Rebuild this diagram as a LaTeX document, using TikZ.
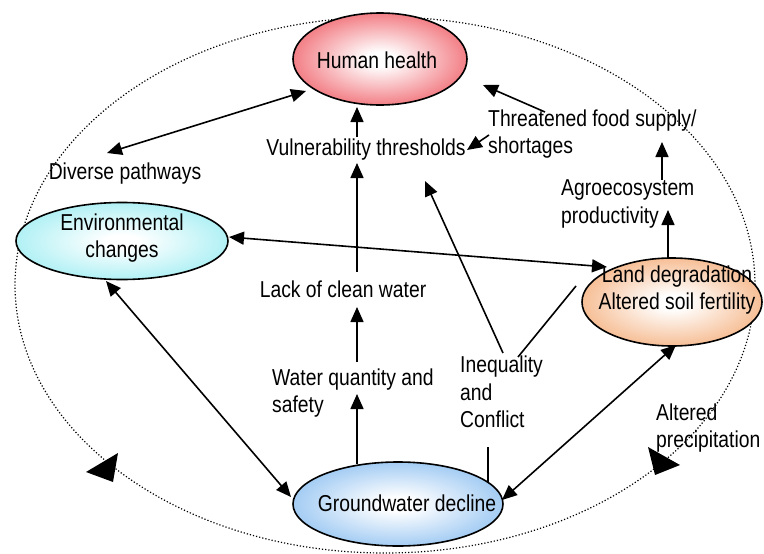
\documentclass[tikz,border=0pt]{standalone}
\usepackage{fontspec}
\setmainfont[FakeStretch=0.84]{Liberation Sans}
\usetikzlibrary{arrows.meta,shapes.geometric}
\definecolor{hhred}{RGB}{236,66,76}
\definecolor{envcyan}{RGB}{140,234,240}
\definecolor{ldorange}{RGB}{242,160,100}
\definecolor{gwblue}{RGB}{120,180,238}
\pgfdeclareradialshading{hhshade}{\pgfpoint{0bp}{0bp}}{color(0bp)=(white); color(4bp)=(white); color(35bp)=(hhred); color(50bp)=(hhred)}
\pgfdeclareradialshading{envshade}{\pgfpoint{0bp}{0bp}}{color(0bp)=(white); color(4bp)=(white); color(35bp)=(envcyan); color(50bp)=(envcyan)}
\pgfdeclareradialshading{ldshade}{\pgfpoint{0bp}{0bp}}{color(0bp)=(white); color(4bp)=(white); color(35bp)=(ldorange); color(50bp)=(ldorange)}
\pgfdeclareradialshading{gwshade}{\pgfpoint{0bp}{0bp}}{color(0bp)=(white); color(4bp)=(white); color(35bp)=(gwblue); color(50bp)=(gwblue)}
\begin{document}
\begin{tikzpicture}[x=1pt,y=-1pt,
  every node/.style={font=\fontsize{23}{27.5}\selectfont, inner sep=0pt},
  oval/.style={ellipse, draw, line width=1.6pt},
  lbl/.style={anchor=west, align=left},
  conn/.style={line width=1.6pt, -{Triangle[length=15pt,width=13pt]}},
  dconn/.style={line width=1.6pt, {Triangle[length=15pt,width=13pt]}-{Triangle[length=15pt,width=13pt]}},
  plain/.style={line width=1.6pt},
  bigtri/.style={fill=black}]
\useasboundingbox (0,0) rectangle (764,554);
% outer dotted ellipse
\draw[line width=1.2pt, dash pattern=on 1.2pt off 2pt] (385,285) ellipse [x radius=370, y radius=268];
\fill[bigtri] (86,472) -- (118,453) -- (113,482) -- cycle;
\fill[bigtri] (680,465) -- (648,447) -- (655,475) -- cycle;
% main ellipses
\node[oval, shading=hhshade, minimum width=174pt, minimum height=92pt] (hh) at (380,59) {};
\node (hht) at (377,60) {Human health};
\node[oval, shading=envshade, minimum width=212pt, minimum height=77pt] (env) at (122,241) {};
\node[align=center] (envt) at (122,238) {Environmental\\changes};
\node[oval, shading=ldshade, minimum width=180pt, minimum height=88pt] (ld) at (672,302) {};
\node[align=center] (ldt) at (677,290) {Land degradation\\Altered soil fertility};
\node[oval, shading=gwshade, minimum width=210pt, minimum height=84pt] (gw) at (398,504) {};
\node (gwt) at (407,503) {Groundwater decline};
% text labels
\node (dp) at (125,174) {Diverse pathways};
\node (vt) at (366,150) {Vulnerability thresholds};
\node[lbl] (tfs) at (488,134) {Threatened food supply/\\shortages};
\node[lbl] (agro) at (561,204) {Agroecosystem\\productivity};
\node (lcw) at (343,289) {Lack of clean water};
\node[lbl] (wq) at (272,393) {Water quantity and\\safety};
\node[lbl] (ineq) at (460,392) {Inequality\\and\\Conflict};
\node[lbl] (ap) at (656,428) {Altered\\precipitation};
% connector end points
\coordinate (c1a) at (107,153); \coordinate (c1b) at (306,91);
\coordinate (c2a) at (357,137); \coordinate (c2b) at (357,107);
\coordinate (c3a) at (357,272); \coordinate (c3b) at (357,163);
\coordinate (c4a) at (357,362); \coordinate (c4b) at (357,307);
\coordinate (c5a) at (357,464); \coordinate (c5b) at (357,394);
\coordinate (c6a) at (229,237); \coordinate (c6b) at (607,267);
\coordinate (c7a) at (106,281); \coordinate (c7b) at (291,497);
\coordinate (c8a) at (502,500); \coordinate (c8b) at (676,345);
\coordinate (c9a) at (668,258); \coordinate (c9b) at (668,210);
\coordinate (c10a) at (662,180); \coordinate (c10b) at (662,142);
\coordinate (c11a) at (545,112); \coordinate (c11b) at (483,85);
\coordinate (c12a) at (489,135); \coordinate (c12b) at (467,150);
\coordinate (c13a) at (503,353); \coordinate (c13b) at (425,181);
\coordinate (c14a) at (518,357); \coordinate (c14b) at (576,286);
\coordinate (c15a) at (488,447); \coordinate (c15b) at (488,483);
% connectors
\draw[dconn] (c1a) -- (c1b);
\draw[conn] (c2a) -- (c2b);
\draw[conn] (c3a) -- (c3b);
\draw[conn] (c4a) -- (c4b);
\draw[conn] (c5a) -- (c5b);
\draw[dconn] (c6a) -- (c6b);
\draw[dconn] (c7a) -- (c7b);
\draw[dconn] (c8a) -- (c8b);
\draw[conn] (c9a) -- (c9b);
\draw[conn] (c10a) -- (c10b);
\draw[conn] (c11a) -- (c11b);
\draw[conn] (c12a) -- (c12b);
\draw[conn] (c13a) -- (c13b);
\draw[plain] (c14a) -- (c14b);
\draw[plain] (c15a) -- (c15b);
\end{tikzpicture}
\end{document}
